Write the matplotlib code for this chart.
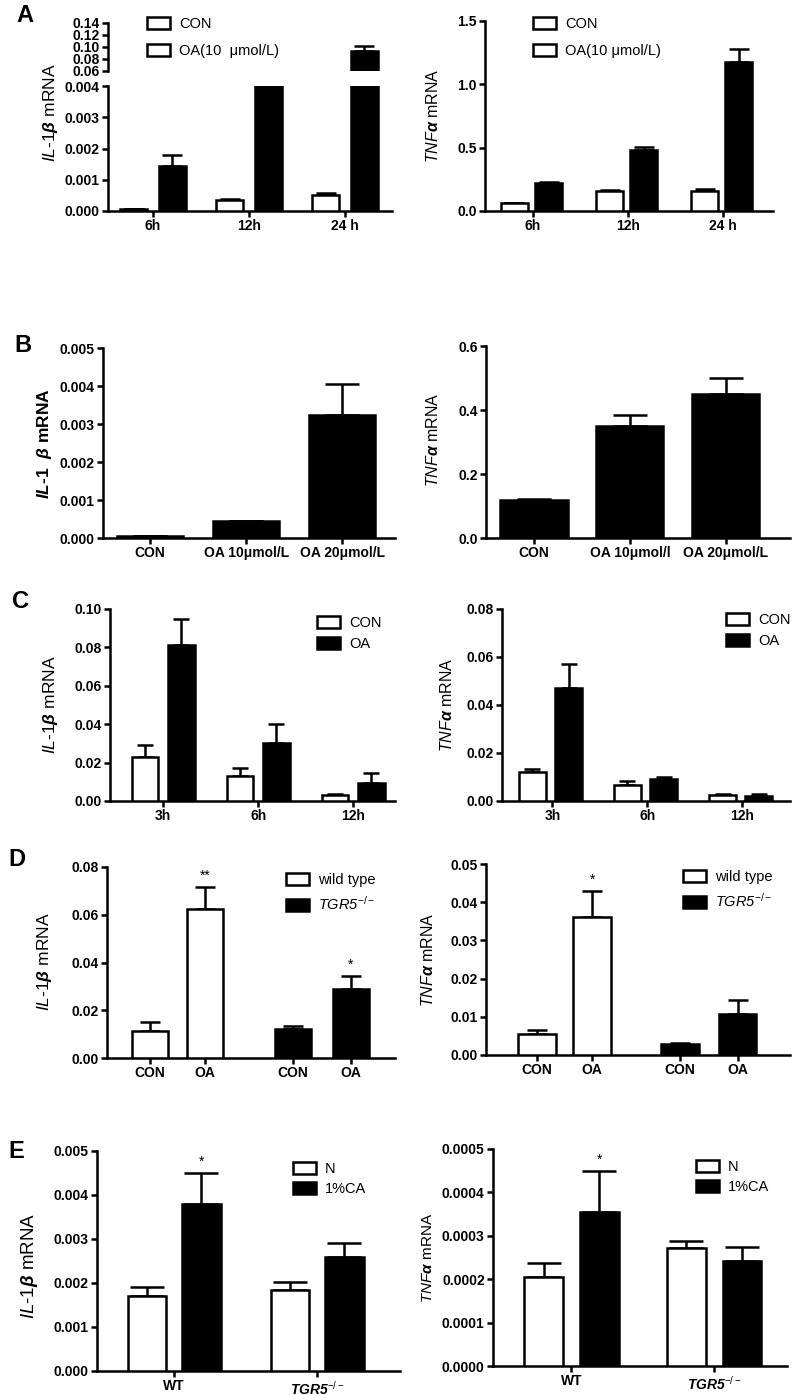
import matplotlib
matplotlib.use('Agg')
import matplotlib.pyplot as plt
from matplotlib.patches import Patch
import numpy as np

plt.rcParams['font.family'] = ['Liberation Sans', 'DejaVu Sans']
plt.rcParams['mathtext.fontset'] = 'custom'
plt.rcParams['mathtext.rm'] = 'Liberation Sans'
plt.rcParams['mathtext.it'] = 'Liberation Sans:italic'
plt.rcParams['mathtext.bf'] = 'Liberation Sans:bold'
try:
    plt.rcParams['mathtext.bfit'] = 'Liberation Sans:italic:bold'
except KeyError:
    pass

# ---- data ----
# A: time course, OA 10 umol/L
a_times = ['6h', '12h', '24 h']
a_il_con = [0.00005, 0.00035, 0.0005]
a_il_con_sem = [0.0, 0.00002, 0.00007]
a_il_oa = [0.00145, 0.03, 0.093]
a_il_oa_sem = [0.00033, 0.0, 0.008]
a_tnf_con = [0.06, 0.16, 0.16]
a_tnf_con_sem = [0.004, 0.007, 0.012]
a_tnf_oa = [0.22, 0.48, 1.18]
a_tnf_oa_sem = [0.008, 0.022, 0.1]

# B: dose
b_il_groups = ['CON', 'OA 10\u03bcmol/L', 'OA 20\u03bcmol/L']
b_tnf_groups = ['CON', 'OA 10\u03bcmol/l', 'OA 20\u03bcmol/L']
b_il = [0.00005, 0.00045, 0.00323]
b_il_sem = [0.000005, 0.00001, 0.00082]
b_tnf = [0.12, 0.35, 0.45]
b_tnf_sem = [0.003, 0.035, 0.05]

# C: short time course
c_times = ['3h', '6h', '12h']
c_il_con = [0.023, 0.013, 0.003]
c_il_con_sem = [0.006, 0.004, 0.0006]
c_il_oa = [0.081, 0.030, 0.0095]
c_il_oa_sem = [0.014, 0.010, 0.005]
c_tnf_con = [0.012, 0.0065, 0.0025]
c_tnf_con_sem = [0.0015, 0.002, 0.0003]
c_tnf_oa = [0.047, 0.009, 0.002]
c_tnf_oa_sem = [0.010, 0.0008, 0.0008]

# D: wild type vs TGR5-/-
d_labels = ['CON', 'OA', 'CON', 'OA']
d_il = [0.0115, 0.0625, 0.012, 0.029]
d_il_sem = [0.0035, 0.009, 0.0015, 0.0055]
d_tnf = [0.0055, 0.036, 0.0028, 0.0107]
d_tnf_sem = [0.001, 0.007, 0.0004, 0.0036]

# E: diet
e_groups = ['WT', 'TGR5$^{-/-}$']
e_il_n = [0.0017, 0.00185]
e_il_n_sem = [0.0002, 0.00017]
e_il_ca = [0.0038, 0.0026]
e_il_ca_sem = [0.0007, 0.0003]
e_tnf_n = [0.000205, 0.000272]
e_tnf_n_sem = [0.000032, 0.000016]
e_tnf_ca = [0.000355, 0.000242]
e_tnf_ca_sem = [0.000095, 0.000033]

IL = r'$\mathit{IL}$-$\mathit{1}\boldsymbol{\beta}$ mRNA'
TNF = r'$\mathit{TNF}\boldsymbol{\alpha}$ mRNA'
TGR = 'TGR5$^{-/-}$'

W, H = 797, 1395
LW = 1.8
fig = plt.figure(figsize=(W / 100, H / 100), dpi=100)


def box(x0, x1, ytop, ybot):
    return fig.add_axes([x0 / W, 1 - ybot / H, (x1 - x0) / W, (ybot - ytop) / H])


def style(ax, yticks, fmt, xlim):
    for s in ['top', 'right']:
        ax.spines[s].set_visible(False)
    for s in ['left', 'bottom']:
        ax.spines[s].set_linewidth(LW)
    ax.tick_params(width=LW, length=4, labelsize=10, pad=2)
    ax.set_yticks(yticks)
    ax.set_yticklabels([fmt % t for t in yticks], fontweight='bold')
    ax.set_ylim(yticks[0], yticks[-1])
    ax.set_xlim(*xlim)
    ax.patch.set_visible(False)


def bars(ax, x, vals, sem, fill, width, cap):
    ax.errorbar(x, vals, yerr=[np.zeros(len(vals)), sem], fmt='none', ecolor='black',
                elinewidth=LW, capsize=cap, capthick=LW, zorder=2)
    ax.bar(x, vals, width, color=fill, edgecolor='black', linewidth=LW, zorder=3)


def xlabels(ax, ticks, labels):
    ax.set_xticks(ticks)
    ax.set_xticklabels(labels, fontweight='bold', fontsize=10)
    for t in ax.get_xticklabels():
        if t.get_text().startswith('TGR5'):
            t.set_fontstyle('italic')


def legend(ax, labels, fills, x, y, spacing):
    handles = [Patch(facecolor=f, edgecolor='black', linewidth=LW) for f in fills]
    leg = ax.legend(handles, labels, loc='upper left', bbox_to_anchor=(x / W, 1 - y / H),
                    bbox_transform=fig.transFigure, frameon=False, borderpad=0, borderaxespad=0,
                    handlelength=1.6, handleheight=0.9, handletextpad=0.6,
                    labelspacing=spacing, fontsize=10.5)
    for t in leg.get_texts():
        if t.get_text().startswith('TGR5'):
            t.set_fontstyle('italic')


def ylab(x, y, text, size=11, **kw):
    fig.text(x / W, 1 - y / H, text, rotation=90, ha='center', va='center', fontsize=size, **kw)


def star(ax, x, top, s):
    ax.annotate(s, (x, top), xytext=(0, 3), textcoords='offset points',
                ha='center', va='bottom', fontsize=10)


def letter(x, y, s):
    fig.text(x / W, 1 - y / H, s, fontsize=17, fontweight='bold', ha='left', va='center')


# ---- A left: broken axis ----
xa = np.arange(3)
lo = box(108, 392, 86, 211)
hi = box(108, 392, 23, 71)
for ax in (lo, hi):
    bars(ax, xa - 0.2, a_il_con, a_il_con_sem, 'white', 0.28, 7)
    bars(ax, xa + 0.2, a_il_oa, a_il_oa_sem, 'black', 0.28, 7)
style(lo, [0, 0.001, 0.002, 0.003, 0.004], '%.3f', (-0.47, 2.49))
style(hi, [0.06, 0.08, 0.10, 0.12, 0.14], '%.2f', (-0.47, 2.49))
hi.spines['bottom'].set_visible(False)
hi.set_xticks([])
xlabels(lo, xa, a_times)
legend(hi, ['CON', 'OA(10  \u03bcmol/L)'], ['white', 'white'], 147, 17, 0.9)
ylab(50, 113, IL, 12.5)
letter(16, 15, 'A')

# ---- A right ----
ax = box(485, 773, 21, 211)
bars(ax, xa - 0.19, a_tnf_con, a_tnf_con_sem, 'white', 0.28, 7)
bars(ax, xa + 0.17, a_tnf_oa, a_tnf_oa_sem, 'black', 0.28, 7)
style(ax, [0, 0.5, 1.0, 1.5], '%.1f', (-0.5, 2.53))
xlabels(ax, xa, a_times)
legend(ax, ['CON', 'OA(10 \u03bcmol/L)'], ['white', 'white'], 533, 17, 0.9)
ylab(433, 116, TNF, 11.5)

# ---- B left ----
ax = box(103, 395, 348, 538)
bars(ax, xa, b_il, b_il_sem, 'black', 0.69, 12)
style(ax, [0, 0.001, 0.002, 0.003, 0.004, 0.005], '%.3f', (-0.49, 2.55))
xlabels(ax, xa, b_il_groups)
ylab(45, 444, r'$\boldsymbol{IL}$-$\boldsymbol{1}$  $\boldsymbol{\beta}$ mRNA', 12.5,
     fontweight='bold')
letter(14, 345, 'B')

# ---- B right ----
ax = box(486, 790, 346, 538)
bars(ax, xa, b_tnf, b_tnf_sem, 'black', 0.7, 12)
style(ax, [0, 0.2, 0.4, 0.6], '%.1f', (-0.5, 2.67))
xlabels(ax, xa, b_tnf_groups)
ylab(433, 440, TNF, 11.5)

# ---- C left ----
ax = box(110, 395, 609, 801)
bars(ax, xa - 0.19, c_il_con, c_il_con_sem, 'white', 0.28, 6)
bars(ax, xa + 0.19, c_il_oa, c_il_oa_sem, 'black', 0.28, 6)
style(ax, [0, 0.02, 0.04, 0.06, 0.08, 0.10], '%.2f', (-0.56, 2.44))
xlabels(ax, xa, c_times)
legend(ax, ['CON', 'OA'], ['white', 'black'], 317, 616, 0.5)
ylab(50, 705, IL, 12.5)
letter(12, 602, 'C')

# ---- C right ----
ax = box(502, 790, 609, 801)
bars(ax, xa - 0.21, c_tnf_con, c_tnf_con_sem, 'white', 0.28, 6)
bars(ax, xa + 0.17, c_tnf_oa, c_tnf_oa_sem, 'black', 0.28, 6)
style(ax, [0, 0.02, 0.04, 0.06, 0.08], '%.2f', (-0.53, 2.5))
xlabels(ax, xa, c_times)
legend(ax, ['CON', 'OA'], ['white', 'black'], 726, 613, 0.5)
ylab(447, 705, TNF, 11.5)

# ---- D left ----
xd = np.array([0, 1, 2.6, 3.65])
dfill = ['white', 'white', 'black', 'black']
ax = box(107, 395, 867, 1058)
bars(ax, xd, d_il, d_il_sem, dfill, 0.66, 7)
style(ax, [0, 0.02, 0.04, 0.06, 0.08], '%.2f', (-0.78, 4.45))
xlabels(ax, xd, d_labels)
star(ax, xd[1], d_il[1] + d_il_sem[1], '**')
star(ax, xd[3], d_il[3] + d_il_sem[3], '*')
legend(ax, ['wild type', TGR], ['white', 'black'], 286, 873, 0.55)
ylab(45, 962, IL, 12.5)
letter(8, 859, 'D')

# ---- D right ----
ax = box(486, 790, 864, 1055)
bars(ax, xd, d_tnf, d_tnf_sem, dfill, 0.68, 7)
style(ax, [0, 0.01, 0.02, 0.03, 0.04, 0.05], '%.2f', (-0.93, 4.6))
xlabels(ax, xd, d_labels)
star(ax, xd[1], d_tnf[1] + d_tnf_sem[1], '*')
legend(ax, ['wild type', TGR], ['white', 'black'], 683, 870, 0.55)
ylab(428, 960, TNF, 11.5)

# ---- E left ----
xe = np.arange(2)
ax = box(97, 400, 1151, 1371)
bars(ax, xe - 0.19, e_il_n, e_il_n_sem, 'white', 0.27, 12)
bars(ax, xe + 0.19, e_il_ca, e_il_ca_sem, 'black', 0.27, 12)
style(ax, [0, 0.001, 0.002, 0.003, 0.004, 0.005], '%.3f', (-0.54, 1.58))
xlabels(ax, xe, e_groups)
star(ax, xe[0] + 0.19, e_il_ca[0] + e_il_ca_sem[0], '*')
legend(ax, ['N', '1%CA'], ['white', 'black'], 293, 1162, 0.4)
ylab(30, 1266, IL, 13.5)
letter(8, 1151, 'E')

# ---- E right ----
ax = box(493, 787, 1149, 1366)
bars(ax, xe - 0.195, e_tnf_n, e_tnf_n_sem, 'white', 0.27, 12)
bars(ax, xe + 0.195, e_tnf_ca, e_tnf_ca_sem, 'black', 0.27, 12)
style(ax, [0, 0.0001, 0.0002, 0.0003, 0.0004, 0.0005], '%.4f', (-0.55, 1.51))
xlabels(ax, xe, e_groups)
star(ax, xe[0] + 0.195, e_tnf_ca[0] + e_tnf_ca_sem[0], '*')
legend(ax, ['N', '1%CA'], ['white', 'black'], 696, 1160, 0.4)
ylab(428, 1258, TNF, 11)

fig.savefig('out.png', dpi=100)
